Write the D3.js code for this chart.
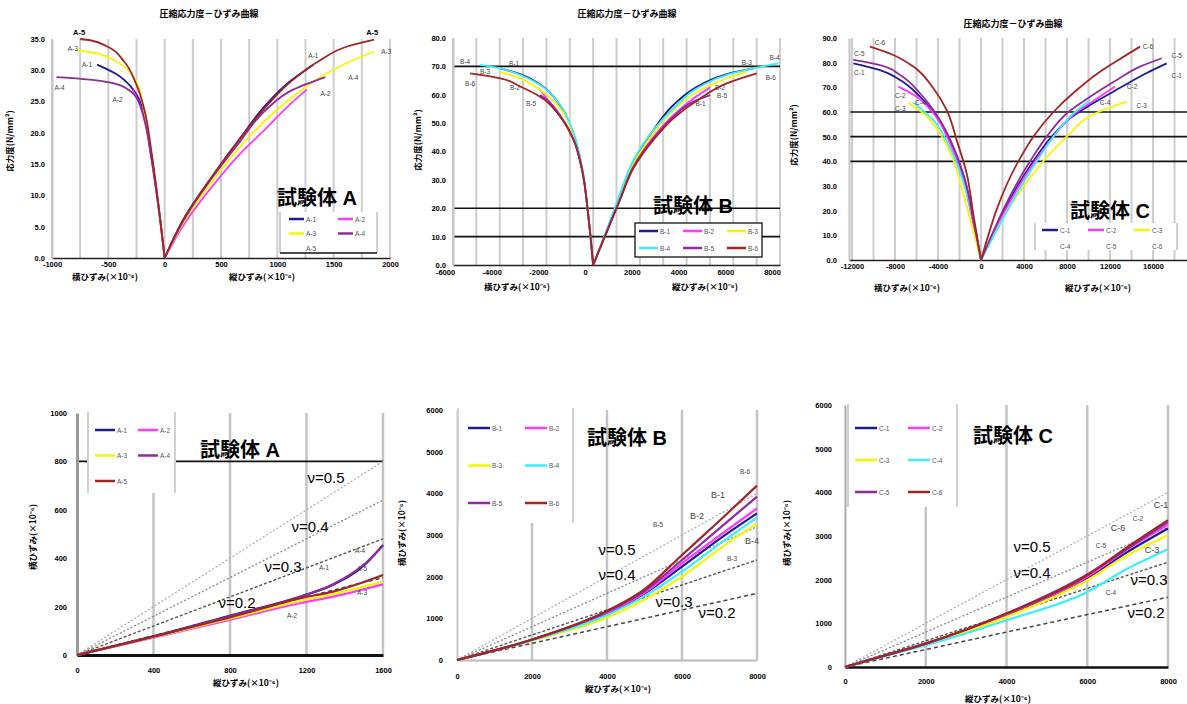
<!DOCTYPE html>
<html>
<head>
<meta charset="utf-8">
<script src="https://cdn.jsdelivr.net/npm/d3@7"></script>
<style>
  body { margin: 0; background: #fff; }
  svg { display: block; }
</style>
</head>
<body>
<svg id="chart" width="1187" height="704"></svg>
<script>
// ---------- data ----------
const navy = "#1c1c8e", mag = "#ff38ff", yel = "#f6f600", pur = "#8e2c9e", brn = "#a02626", cya = "#38eeff";

// 試験体A  応力度-ひずみ (横ひずみは負側, 縦ひずみは正側)  [ひずみ(×10^-6), 応力度(N/mm2)]
const namesA = ["A-1", "A-2", "A-3", "A-4", "A-5"];
const colorsA = [navy, mag, yel, pur, brn];
const latA = [
  [[0,0],[-60,9.0],[-120,16.5],[-180,22.6],[-240,25.8],[-300,27.4],[-420,29.3],[-600,30.9]],
  [[0,0],[-60,8.8],[-120,16.2],[-180,22.1],[-240,25.3],[-285,26.9]],
  [[0,0],[-60,9.0],[-120,16.8],[-180,23.1],[-240,27.7],[-330,30.1],[-450,31.6],[-600,32.7],[-780,33.2]],
  [[0,0],[-60,8.8],[-120,16.2],[-180,22.1],[-240,25.3],[-300,26.6],[-450,27.9],[-720,28.6],[-960,28.9]],
  [[0,0],[-60,9.3],[-120,17.3],[-180,23.7],[-255,27.9],[-360,31.4],[-510,33.8],[-660,34.8],[-750,35.0]]
];
const axA = [
  [[0,0],[180,6.6],[420,13.0],[660,18.9],[900,24.5],[1110,28.2],[1320,30.9]],
  [[0,0],[180,5.6],[420,11.4],[660,16.5],[900,20.7],[1110,24.5],[1260,26.9]],
  [[0,0],[180,6.1],[420,12.2],[660,17.6],[900,22.1],[1140,25.8],[1380,28.9],[1620,31.2],[1860,33.0]],
  [[0,0],[180,6.4],[420,12.8],[660,18.4],[900,23.7],[1140,26.9],[1425,28.9]],
  [[0,0],[180,6.6],[420,13.0],[660,18.9],[900,24.2],[1140,28.5],[1380,31.6],[1620,33.8],[1860,34.9]]
];

// 試験体B
const namesB = ["B-1", "B-2", "B-3", "B-4", "B-5", "B-6"];
const colorsB = [navy, mag, yel, cya, pur, brn];
const latB = [
  [[0,0],[-200,17.0],[-485,34.7],[-842,46.2],[-1413,56.2],[-2269,63.6],[-3125,67.3],[-3981,69.3]],
  [[0,0],[-200,16.8],[-485,34.0],[-842,44.6],[-1413,52.9],[-1983,58.7],[-2269,61.7]],
  [[0,0],[-200,17.0],[-485,34.5],[-842,45.5],[-1413,55.2],[-2269,61.7],[-3125,65.8],[-3981,68.1]],
  [[0,0],[-200,17.0],[-485,34.7],[-842,46.4],[-1413,56.4],[-2269,63.4],[-3125,67.0],[-3981,69.3],[-4837,70.5]],
  [[0,0],[-200,16.8],[-485,34.0],[-842,44.4],[-1413,52.5],[-1983,58.2],[-2269,59.9]],
  [[0,0],[-200,16.8],[-485,33.8],[-842,44.1],[-1413,52.3],[-2269,59.3],[-3125,62.9],[-3981,65.8],[-5265,67.5]]
];
const axB = [
  [[0,0],[585,12.3],[1156,24.7],[1726,36.4],[2583,47.6],[3439,56.4],[4580,63.4],[5722,67.3],[6864,69.3]],
  [[0,0],[585,11.8],[1156,23.6],[1726,35.2],[2583,45.2],[3439,52.9],[4295,58.7],[5009,62.6]],
  [[0,0],[585,12.0],[1156,24.0],[1726,35.8],[2583,46.4],[3439,54.6],[4580,61.7],[5722,65.8],[6578,68.1]],
  [[0,0],[585,12.3],[1156,25.3],[1726,37.0],[2583,47.6],[3439,55.2],[4580,62.9],[5722,67.0],[6864,69.3],[7934,71.1]],
  [[0,0],[585,11.8],[1156,23.4],[1726,34.7],[2583,44.6],[3439,52.3],[4295,57.6],[5009,59.9]],
  [[0,0],[585,11.6],[1156,23.0],[1726,34.1],[2583,44.1],[3439,51.7],[4580,58.7],[5722,64.0],[7006,67.5]]
];

// 試験体C
const namesC = ["C-1", "C-2", "C-3", "C-4", "C-5", "C-6"];
const colorsC = [navy, mag, yel, cya, pur, brn];
const latC = [
  [[0,0],[-713,16.2],[-1488,32.0],[-2574,45.5],[-3814,56.1],[-5674,66.2],[-7535,73.0],[-9395,77.0],[-11876,79.7]],
  [[0,0],[-868,17.6],[-1643,32.4],[-2884,47.3],[-4434,59.5],[-5984,66.2],[-7690,70.3]],
  [[0,0],[-868,14.3],[-1643,27.0],[-2574,40.5],[-3814,51.3],[-5364,59.5],[-6760,63.8]],
  [[0,0],[-713,16.0],[-1643,31.6],[-2884,45.5],[-4434,56.7],[-6295,63.8]],
  [[0,0],[-713,16.2],[-1488,32.4],[-2574,45.9],[-3814,56.7],[-5674,67.6],[-7535,75.0],[-9395,79.0],[-11876,81.1]],
  [[0,0],[-713,18.5],[-1333,35.1],[-2264,48.6],[-3194,60.8],[-4434,69.6],[-6295,78.4],[-8155,83.1],[-10326,86.5]]
];
const axC = [
  [[0,0],[4868,40],[6574,50],[8434,58],[10140,62.8],[12930,69.8],[15411,75.8],[17271,79.7]],
  [[0,0],[5023,40],[6729,50],[8899,60],[10450,64.5],[12465,70.3]],
  [[0,0],[5798,40],[7969,50],[10915,60],[13550,64.2]],
  [[0,0],[5178,40],[6900,51],[8600,59.5],[10140,64.9]],
  [[0,0],[4558,40],[6109,50],[8124,60],[10140,66.2],[12620,73.0],[14791,78.4],[16806,81.8]],
  [[0,0],[3473,40],[4868,50],[6729,60],[8899,68.9],[11070,76.3],[12930,81.5],[14791,86.5]]
];

// 横ひずみ - 縦ひずみ  [縦ひずみ, 横ひずみ]
const pvA = [
  [[0,0],[417,80],[817,166],[1165,241],[1339,290],[1513,379],[1600,455]],
  [[0,0],[417,75],[817,149],[1165,214],[1339,241],[1600,292]],
  [[0,0],[417,77],[817,154],[1165,223],[1339,251],[1600,303]],
  [[0,0],[417,79],[817,164],[1165,240],[1339,292],[1513,382],[1600,452]],
  [[0,0],[417,80],[817,159],[1165,234],[1339,262],[1600,331]]
];
const pvB = [
  [[0,0],[1956,468],[3956,1100],[4978,1580],[6000,2240],[7022,2920],[8000,3520]],
  [[0,0],[1956,470],[3956,1120],[4978,1600],[6000,2320],[7022,3000],[8000,3640]],
  [[0,0],[1956,456],[3956,1000],[4978,1440],[6000,2000],[7022,2680],[8000,3280]],
  [[0,0],[1956,465],[3956,1060],[4978,1520],[6000,2120],[7022,2800],[8000,3416]],
  [[0,0],[1956,475],[3956,1140],[4978,1640],[6000,2400],[7022,3176],[8000,3920]],
  [[0,0],[1956,480],[3956,1160],[4978,1680],[6000,2520],[7022,3360],[8000,4184]]
];
const pvC = [
  [[0,0],[1000,267],[2000,535],[4000,1200],[6000,2041],[7000,2637],[8000,3172]],
  [[0,0],[1000,267],[2000,535],[4000,1210],[6000,2064],[7000,2700],[8000,3264]],
  [[0,0],[1000,262],[2000,520],[4000,1146],[6000,1987],[7000,2560],[8000,3019]],
  [[0,0],[1000,255],[2000,497],[4000,1070],[6000,1720],[7000,2255],[8000,2698]],
  [[0,0],[1000,267],[2000,535],[4000,1223],[6000,2117],[7000,2713],[8000,3325]],
  [[0,0],[1000,267],[2000,535],[4000,1223],[6000,2102],[7000,2751],[8000,3363]]
];
const poisson = [0.5, 0.4, 0.3, 0.2];

// tick labels
const xTicksA = [-1000, -500, 0, 500, 1000, 1500, 2000];
const yTicksA = [0, 5, 10, 15, 20, 25, 30, 35];
const xTicksB = [-6000, -4000, -2000, 0, 2000, 4000, 6000, 8000];
const yTicksB = [0, 10, 20, 30, 40, 50, 60, 70, 80];
const xTicksC = [-12000, -8000, -4000, 0, 4000, 8000, 12000, 16000];
const yTicksC = [0, 10, 20, 30, 40, 50, 60, 70, 80, 90];
const refLinesB = [70, 20, 10];
const refLinesC = [60, 50, 40];
const xTicksPA = [0, 400, 800, 1200, 1600];
const yTicksPA = [0, 200, 400, 600, 800, 1000];
const xTicksPB = [0, 2000, 4000, 6000, 8000];
const yTicksPB = [0, 1000, 2000, 3000, 4000, 5000, 6000];

const titleTop = "圧縮応力度－ひずみ曲線";
const yTitleTop = "応力度(N/mm²)";
const latTitle = "横ひずみ(×10⁻⁶)";
const axTitle = "縦ひずみ(×10⁻⁶)";

// ---------- drawing ----------
const LAT = '"Liberation Sans", Arial, "Noto Sans CJK JP", sans-serif';
const JP = '"Noto Sans CJK JP", "Liberation Sans", sans-serif';
const svg = d3.select("#chart");

function text(g, x, y, s, o = {}) {
  return g.append("text").attr("x", x).attr("y", y).text(s)
    .attr("font-family", o.font || LAT).attr("font-size", o.size || 8)
    .attr("font-weight", o.weight || "normal").attr("fill", o.fill || "#000")
    .attr("text-anchor", o.anchor || "middle")
    .attr("transform", o.rotate ? `rotate(-90,${x},${y})` : null);
}

function legend(g, L, names, colors) {
  const [bx, by, bw, bh] = L.box;
  g.append("rect").attr("x", bx).attr("y", by).attr("width", bw).attr("height", bh)
    .attr("fill", "#fff").attr("stroke", "none");
  if (L.frame) {
    g.append("rect").attr("x", bx).attr("y", by).attr("width", bw).attr("height", bh)
      .attr("fill", "none").attr("stroke", "#111").attr("stroke-width", 1.3);
  } else {
    [bx, bx + bw].forEach(xx => g.append("line").attr("x1", xx).attr("x2", xx)
      .attr("y1", by).attr("y2", by + bh).attr("stroke", "#d0d0d0").attr("stroke-width", 2));
    if (L.bottomLine) g.append("line").attr("x1", bx).attr("x2", bx + bw)
      .attr("y1", by + bh).attr("y2", by + bh).attr("stroke", "#111").attr("stroke-width", 1.3);
  }
  names.forEach((n, i) => {
    const cx = L.x0 + (i % L.cols) * L.colW, cy = L.y0 + Math.floor(i / L.cols) * L.rowH;
    if (!(L.noLine || []).includes(i))
      g.append("line").attr("x1", cx).attr("x2", cx + L.len).attr("y1", cy).attr("y2", cy)
        .attr("stroke", colors[i]).attr("stroke-width", 2.5);
    text(g, cx + L.len + 2, cy + 2.5, n, { size: 6.5, fill: "#555", anchor: "start" });
  });
}

function styleAxis(a, size) {
  a.attr("font-size", size).attr("font-weight", "bold").attr("font-family", LAT);
  a.selectAll("text").attr("fill", "#000");
}

function drawTop(p) {
  const g = svg.append("g");
  const x = d3.scaleLinear().domain(p.xDomain).range(p.xRange);
  const y = d3.scaleLinear().domain(p.yDomain).range(p.yRange);
  const top = p.yRange[1], bottom = p.yRange[0];

  g.append("g").selectAll("line").data(p.grid).join("line")
    .attr("x1", d => x(d)).attr("x2", d => x(d)).attr("y1", top).attr("y2", bottom)
    .attr("stroke", "#cdcdcd").attr("stroke-width", 2);
  g.append("g").selectAll("line").data(p.refLines || []).join("line")
    .attr("x1", p.xRange[0]).attr("x2", p.refRight || p.xRange[1])
    .attr("y1", d => y(d)).attr("y2", d => y(d)).attr("stroke", "#111").attr("stroke-width", 1.6);

  const xa = g.append("g").attr("transform", `translate(0,${bottom})`)
    .call(d3.axisBottom(x).tickValues(p.xTicks).tickSize(0).tickPadding(p.xPad).tickFormat(d => String(d)));
  xa.select(".domain").attr("stroke", "#222").attr("stroke-width", 1.5);
  xa.selectAll("text").attr("dx", p.xDx || 0);
  styleAxis(xa, 7.5);

  const ya = g.append("g").attr("transform", `translate(${p.xRange[0]},0)`)
    .call(d3.axisLeft(y).tickValues(p.yTicks).tickSize(0).tickPadding(p.yPad).tickFormat(d3.format(".1f")));
  ya.select(".domain").attr("stroke", "#c4c4c4").attr("stroke-width", 2);
  styleAxis(ya, 7.5);

  // stress rises monotonically along each branch
  const line = d3.line().x(d => x(d[0])).y(d => y(d[1])).curve(d3.curveMonotoneY);
  p.names.forEach((n, i) => {
    [p.lat[i], p.ax[i]].forEach(s => g.append("path").attr("d", line(s))
      .attr("fill", "none").attr("stroke", p.colors[i]).attr("stroke-width", 1.8));
  });
  p.names.forEach((n, i) => {
    const bold = p.boldLabel === i;
    [[p.lat[i], p.latOff[i]], [p.ax[i], p.axOff[i]]].forEach(([s, off]) => {
      const e = s[s.length - 1];
      text(g, x(e[0]) + off[0], y(e[1]) + off[1] + 2.5, n,
        { size: bold ? 7.5 : 6.5, weight: bold ? "bold" : "normal", fill: bold ? "#000" : "#444" });
    });
  });

  legend(g, p.legend, p.names, p.colors);
  text(g, p.tag[0], p.tag[1], p.tagText, { size: 20, weight: "bold", anchor: "start" });
  text(g, p.title[0], p.title[1], titleTop, { font: JP, size: 9, weight: "bold" });
  text(g, p.yTitle[0], p.yTitle[1], yTitleTop, { font: JP, size: 8.5, weight: "bold", rotate: true });
  text(g, p.latT[0], p.latT[1], latTitle, { font: JP, size: 8.5, weight: "bold" });
  text(g, p.axT[0], p.axT[1], axTitle, { font: JP, size: 8.5, weight: "bold" });
}

function drawBottom(p) {
  const g = svg.append("g");
  const x = d3.scaleLinear().domain(p.xDomain).range(p.xRange);
  const y = d3.scaleLinear().domain(p.yDomain).range(p.yRange);
  const top = p.yRange[1], bottom = p.yRange[0];

  g.append("g").selectAll("line").data(p.xTicks.slice(1)).join("line")
    .attr("x1", d => x(d)).attr("x2", d => x(d)).attr("y1", top).attr("y2", bottom)
    .attr("stroke", "#c4c4c4").attr("stroke-width", 2.5);
  g.append("g").selectAll("line").data(p.refLines || []).join("line")
    .attr("x1", p.xRange[0]).attr("x2", p.xRange[1])
    .attr("y1", d => y(d)).attr("y2", d => y(d)).attr("stroke", "#111").attr("stroke-width", 1.6);

  const xMax = p.xDomain[1];
  const nuStyle = [["#aaa", "2,2", 1.2], ["#888", "2,2", 1.3], ["#555", "3,2", 1.4], ["#444", "4,3", 1.5]];
  g.append("g").selectAll("line").data(poisson).join("line")
    .attr("x1", x(0)).attr("y1", y(0)).attr("x2", x(xMax)).attr("y2", d => y(d * xMax))
    .attr("stroke", (d, i) => nuStyle[i][0]).attr("stroke-dasharray", (d, i) => nuStyle[i][1])
    .attr("stroke-width", (d, i) => nuStyle[i][2]);

  const xa = g.append("g").attr("transform", `translate(0,${bottom})`)
    .call(d3.axisBottom(x).tickValues(p.xTicks).tickSize(0).tickPadding(p.xPad).tickFormat(d => String(d)));
  xa.select(".domain").attr("stroke", p.xAxisColor).attr("stroke-width", p.xAxisW);
  styleAxis(xa, 7.5);
  const ya = g.append("g").attr("transform", `translate(${p.xRange[0]},0)`)
    .call(d3.axisLeft(y).tickValues(p.yTicks).tickSize(0).tickPadding(p.yPad).tickFormat(d => String(d)));
  ya.select(".domain").attr("stroke", p.yAxisColor).attr("stroke-width", p.yAxisW);
  styleAxis(ya, 7.5);

  const line = d3.line().x(d => x(d[0])).y(d => y(d[1])).curve(d3.curveMonotoneX);
  p.names.forEach((n, i) => g.append("path").attr("d", line(p.data[i]))
    .attr("fill", "none").attr("stroke", p.colors[i]).attr("stroke-width", 2.2));
  p.names.forEach((n, i) => {
    const e = p.data[i][p.data[i].length - 1], off = p.labOff[i];
    text(g, x(e[0]) + off[0], y(e[1]) + off[1] + 2.5, n, { size: off[2] || 6.5, fill: "#444" });
  });

  poisson.forEach((v, i) => text(g, p.nuPos[i][0], p.nuPos[i][1], "ν=" + v.toFixed(1), { size: 15 }));

  legend(g, p.legend, p.names, p.colors);
  text(g, p.tag[0], p.tag[1], p.tagText, { size: 20, weight: "bold", anchor: "start" });
  text(g, p.yTitle[0], p.yTitle[1], latTitle, { font: JP, size: 8.5, weight: "bold", rotate: true });
  text(g, p.xTitle[0], p.xTitle[1], axTitle, { font: JP, size: 8.5, weight: "bold" });
}

drawTop({
  names: namesA, colors: colorsA, lat: latA, ax: axA,
  xDomain: [-1000, 2000], xRange: [52, 390], yDomain: [0, 35], yRange: [258, 39],
  grid: d3.range(-1000, 2001, 250), xTicks: xTicksA, yTicks: yTicksA, xPad: 4, yPad: 7,
  latOff: [[-10, 0], [-15, 10], [-4, -2], [3, 10], [-1, -7]],
  axOff: [[0, -9], [19, 4], [12, 0], [28, 0], [-2, -7]], boldLabel: 4,
  legend: { box: [280, 212, 97, 41], bottomLine: true, x0: 289, colW: 49, y0: 219, rowH: 14.5, len: 15, cols: 2, noLine: [4] },
  tag: [277, 205], tagText: "試験体 A", title: [209, 17], yTitle: [13, 141], latT: [105, 280], axT: [262, 280]
});

drawTop({
  names: namesB, colors: colorsB, lat: latB, ax: axB,
  xDomain: [-6000, 8000], xRange: [453, 780], yDomain: [0, 80], yRange: [265, 38],
  grid: d3.range(-6000, 8001, 1000), xTicks: xTicksB, yTicks: yTicksB, xPad: 5, yPad: 7, xDx: -8,
  refLines: refLinesB,
  latOff: [[14, -5], [-25, -2], [-15, 0], [-15, -3], [-9, 8], [0, 10]],
  axOff: [[-53, 35], [10, 0], [0, -9], [-4, -6], [12, 0], [14, 4]],
  legend: { box: [635, 223, 127, 34], frame: true, x0: 639, colW: 44, y0: 231, rowH: 17, len: 19, cols: 3 },
  tag: [653, 213], tagText: "試験体 B", title: [627, 17], yTitle: [421, 140], latT: [517, 290], axT: [705, 290]
});

drawTop({
  names: namesC, colors: colorsC, lat: latC, ax: axC,
  xDomain: [-12280, 19160], xRange: [849, 1187], yDomain: [0, 90], yRange: [260, 38],
  grid: d3.range(-12000, 19001, 2000), xTicks: xTicksC, yTicks: yTicksC, xPad: 4, yPad: 12,
  refLines: refLinesC, refRight: 1187,
  latOff: [[6, 9], [2, 9], [-8, 6], [7, 0], [6, -6], [10, -4]],
  axOff: [[10, 12], [17, 0], [15, 4], [15, 3], [15, -3], [8, 0]],
  legend: { box: [1035, 223, 142, 27], x0: 1042, colW: 46, y0: 230, rowH: 16, len: 16, cols: 3, noLine: [3, 4, 5] },
  tag: [1070, 218], tagText: "試験体 C", title: [1013, 27], yTitle: [797, 135], latT: [907, 291], axT: [1098, 291]
});

drawBottom({
  names: namesA, colors: colorsA, data: pvA,
  xDomain: [0, 1600], xRange: [77, 383], yDomain: [0, 1000], yRange: [655, 413],
  xTicks: xTicksPA, yTicks: yTicksPA, xPad: 13, yPad: 10, refLines: [800],
  xAxisColor: "#111", xAxisW: 3, yAxisColor: "#999", yAxisW: 3,
  labOff: [[-59, 23], [-91, 31], [-21, 11], [-23, 5], [-21, -6]],
  nuPos: [[326, 483], [310, 532], [283, 572], [237, 608]],
  legend: { box: [88, 412, 87, 81], x0: 95, colW: 43, y0: 430, rowH: 25.5, len: 20, cols: 2 },
  tag: [200, 457], tagText: "試験体 A", yTitle: [36, 537], xTitle: [246, 686]
});

drawBottom({
  names: namesB, colors: colorsB, data: pvB,
  xDomain: [0, 8000], xRange: [457, 757], yDomain: [0, 6000], yRange: [660, 410],
  xTicks: xTicksPB, yTicks: yTicksPB, xPad: 14, yPad: 14,
  xAxisColor: "#bbb", xAxisW: 2, yAxisColor: "#c4c4c4", yAxisW: 2,
  labOff: [[-39, -18, 9], [-60, 8, 9], [-25, 35], [-5, 24, 9], [-99, 28], [-12, -14]],
  nuPos: [[617, 555], [617, 580], [674, 607], [717, 618]],
  legend: { box: [458, 408, 115, 115], x0: 468, colW: 57, y0: 428, rowH: 37.5, len: 22, cols: 2 },
  tag: [587, 445], tagText: "試験体 B", yTitle: [405, 533], xTitle: [618, 692]
});

drawBottom({
  names: namesC, colors: colorsC, data: pvC,
  xDomain: [0, 8000], xRange: [845, 1168], yDomain: [0, 6000], yRange: [667, 405],
  xTicks: xTicksPB, yTicks: yTicksPB, xPad: 12, yPad: 13,
  xAxisColor: "#111", xAxisW: 2.5, yAxisColor: "#aaa", yAxisW: 2,
  labOff: [[-7, -23, 9], [-30, -6], [-16, 15, 9], [-57, 43], [-67, 24], [-50, 8, 9]],
  nuPos: [[1032, 552], [1032, 578], [1149, 585], [1146, 618]],
  legend: { box: [848, 404, 109, 103], x0: 855, colW: 53, y0: 428, rowH: 32, len: 22, cols: 2 },
  tag: [973, 443], tagText: "試験体 C", yTitle: [790, 533], xTitle: [998, 702]
});
</script>
</body>
</html>
